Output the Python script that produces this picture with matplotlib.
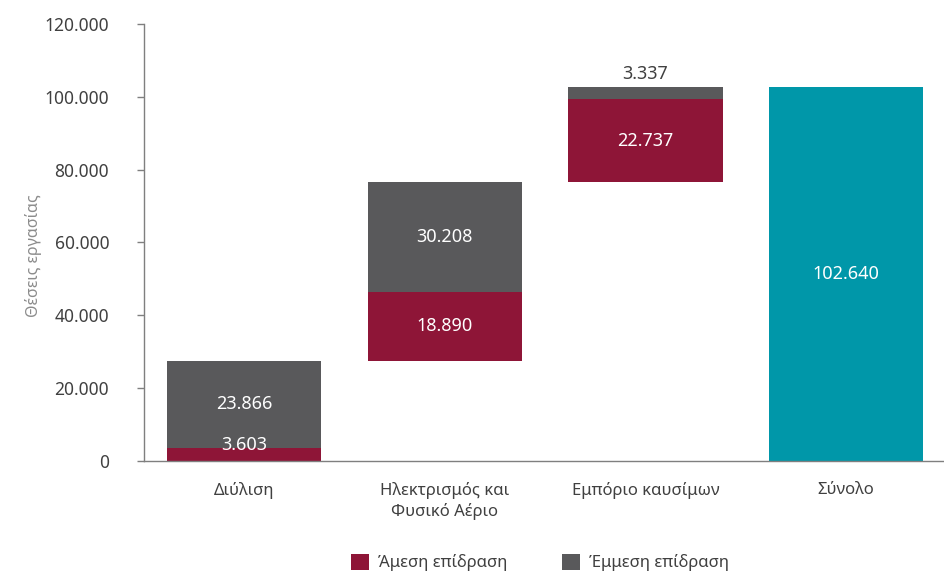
import matplotlib
matplotlib.use("Agg")
import matplotlib.pyplot as plt
from matplotlib.ticker import FuncFormatter
import numpy as np

plt.rcParams['font.family'] = ['Noto Sans', 'DejaVu Sans']

# Data
categories = ["Διύλιση", "Ηλεκτρισμός και\nΦυσικό Αέριο", "Εμπόριο καυσίμων", "Σύνολο"]
direct = [3603, 18890, 22737]
indirect = [23866, 30208, 3337]
total = 102640
series_names = ["Άμεση επίδραση", "Έμμεση επίδραση"]
y_label = "Θέσεις εργασίας"

c_direct = "#8e1537"
c_indirect = "#59595b"
c_total = "#0097a9"
c_axis = "#7f7f7f"
c_text = "#404040"
lbl_size = 13


def fmt(v):
    return f"{int(v):,}".replace(",", ".")


fig = plt.figure(figsize=(9.44, 5.71), dpi=100)
ax = fig.add_axes([0.1525, 0.193, 0.85, 0.765])

x = np.arange(len(categories))
w = 0.77

# waterfall: each sector stacks on the running total
base = 0
for i in range(len(direct)):
    ax.bar(x[i], direct[i], w, bottom=base, color=c_direct,
           label=series_names[0] if i == 0 else None)
    ax.bar(x[i], indirect[i], w, bottom=base + direct[i], color=c_indirect,
           label=series_names[1] if i == 0 else None)

    # labels
    if i == 0:
        ax.text(x[i], base + direct[i] + 800, fmt(direct[i]), ha='center', va='center',
                color='white', fontsize=lbl_size, fontweight='medium')
    else:
        ax.text(x[i], base + direct[i] / 2, fmt(direct[i]), ha='center', va='center',
                color='white', fontsize=lbl_size, fontweight='medium')
    if indirect[i] < 8000:
        ax.text(x[i], base + direct[i] + indirect[i] + 1200, fmt(indirect[i]),
                ha='center', va='bottom', color=c_text, fontsize=lbl_size, fontweight='medium')
    else:
        ax.text(x[i], base + direct[i] + indirect[i] / 2, fmt(indirect[i]),
                ha='center', va='center', color='white', fontsize=lbl_size, fontweight='medium')
    base += direct[i] + indirect[i]

ax.bar(x[3], total, w, color=c_total)
ax.text(x[3], total / 2, fmt(total), ha='center', va='center',
        color='white', fontsize=lbl_size, fontweight='medium')

ax.set_xlim(-0.5, 3.5)
ax.set_ylim(0, 120000)
ax.set_yticks(np.arange(0, 120001, 20000))
ax.yaxis.set_major_formatter(FuncFormatter(lambda v, p: fmt(v)))
ax.set_xticks(x)
ax.set_xticklabels(categories, fontsize=12, color=c_text, linespacing=1.35)
ax.tick_params(axis='x', length=0, pad=15)
ax.tick_params(axis='y', length=5, width=1, color=c_axis, labelsize=12.5,
               labelcolor=c_text, pad=20)

for s in ['top', 'right']:
    ax.spines[s].set_visible(False)
for s in ['left', 'bottom']:
    ax.spines[s].set_color(c_axis)
    ax.spines[s].set_linewidth(1)

ax.set_ylabel(y_label, fontsize=11.5, color='#8c8c8c')
ax.yaxis.set_label_coords(-0.127, 0.469)

fig.legend(loc='lower center', bbox_to_anchor=(0.572, -0.027), ncol=2, frameon=False,
           fontsize=12, handlelength=1.1, handleheight=1.1, handletextpad=0.5,
           columnspacing=3.3, labelcolor=c_text)

fig.savefig("out.png", dpi=100)
